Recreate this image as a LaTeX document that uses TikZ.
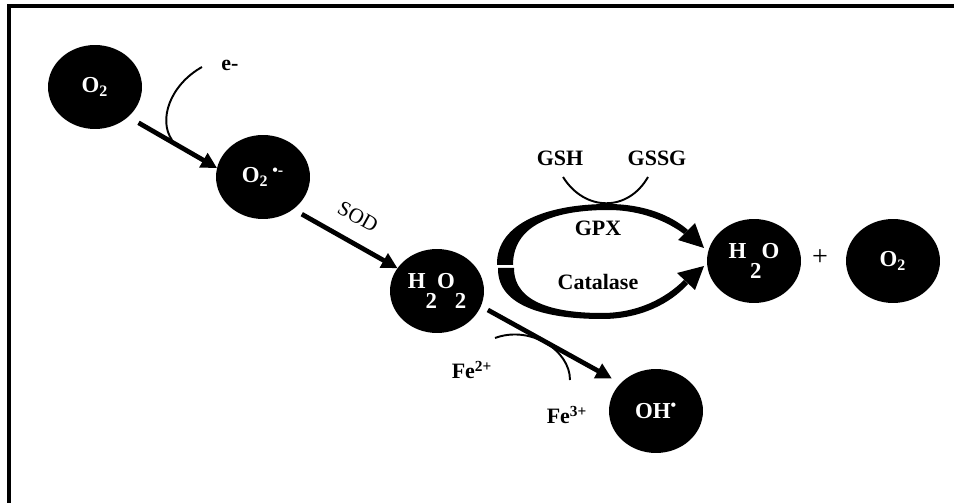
\documentclass[tikz,border=0pt]{standalone}
\usepackage{fontspec}
\setmainfont{Liberation Serif}
\usetikzlibrary{shapes.geometric,arrows.meta}

\tikzset{
  mol/.style={ellipse,fill=black,text=white,minimum width=1.88cm,minimum height=1.68cm,
    inner sep=0,outer sep=0,font=\bfseries\fontsize{13}{15}\selectfont},
  lbl/.style={inner sep=0,font=\bfseries\fontsize{12.5}{14}\selectfont},
  react/.style={line width=2.7pt,-{Triangle[length=9pt,width=9pt]}},
  cofac/.style={line width=1.1pt},
}

\begin{document}
\begin{tikzpicture}[x=0.02cm,y=-0.02cm]
  \useasboundingbox (0,0) rectangle (954,503);
  \draw[line width=2.5pt] (9,503) -- (9,6) -- (954,6);

  % molecules
  \node[mol] (o2_in) at (95,87) {O\textsubscript{2}};
  \node[mol] (sup_ox) at (263,177) {O\textsubscript{2}\,\textsuperscript{\textbullet-}};
  \node[mol] (h2o2) at (437,291) {H\raisebox{-11pt}{2}O\raisebox{-11pt}{2}};
  \node[mol] (water) at (754,261) {H\,\raisebox{-11pt}{2}O};
  \node[mol] (o2_out) at (893,261) {O\textsubscript{2}};
  \node[mol] (oh_rad) at (656,411) {OH\textsuperscript{\textbullet}};

  % labels
  \node[lbl] (e_minus) at (230,65) {e-};
  \node[inner sep=0,font=\fontsize{12}{14}\selectfont,rotate=-29] (sod_text) at (358,217) {SOD};
  \node[lbl] (gsh_text) at (560,158) {GSH};
  \node[lbl] (gssg_text) at (657,158) {GSSG};
  \node[lbl] (gpx_text) at (598,228) {GPX};
  \node[lbl] (cat_text) at (598,282) {Catalase};
  \node[inner sep=0,font=\fontsize{16}{18}\selectfont] (plus_text) at (820,258) {+};
  \node[lbl] (fe2_text) at (472,370) {Fe\textsuperscript{2+}};
  \node[lbl] (fe3_text) at (567,415) {Fe\textsuperscript{3+}};

  % main reactions
  \draw[react,shorten <=0.24cm] (o2_in.-42) -- (sup_ox.169);
  \draw[react,shorten <=0.2cm] (sup_ox.-47) -- (h2o2.150);
  \draw[react,shorten <=0.16cm,shorten >=0.2cm] (h2o2.-19) -- (oh_rad.142);

  % side arcs
  \draw[cofac] (202,67) .. controls (170,85) and (158,120) .. (172,140);
  \draw[cofac] (563,177) .. controls (585,212) and (628,212) .. (648,177);
  \draw[cofac] (495,338) .. controls (530,325) and (570,350) .. (570,380);

  % GPX arc
  \fill (497,265) .. controls (496,222) and (550,204) .. (608,204)
    .. controls (645,204) and (672,216) .. (688,230) -- (684,234)
    .. controls (668,222) and (642,210) .. (608,210)
    .. controls (560,210) and (513,222) .. (513,265) -- cycle;
  \fill (704,248) -- (695,223) -- (678,240) -- cycle;

  % Catalase arc
  \fill (498,268) .. controls (497,308) and (550,319) .. (602,319)
    .. controls (640,319) and (670,304) .. (688,284) -- (684,280)
    .. controls (666,298) and (638,313) .. (602,313)
    .. controls (560,313) and (514,305) .. (514,268) -- cycle;
  \fill (704,266) -- (695,290) -- (677,273) -- cycle;
\end{tikzpicture}
\end{document}
